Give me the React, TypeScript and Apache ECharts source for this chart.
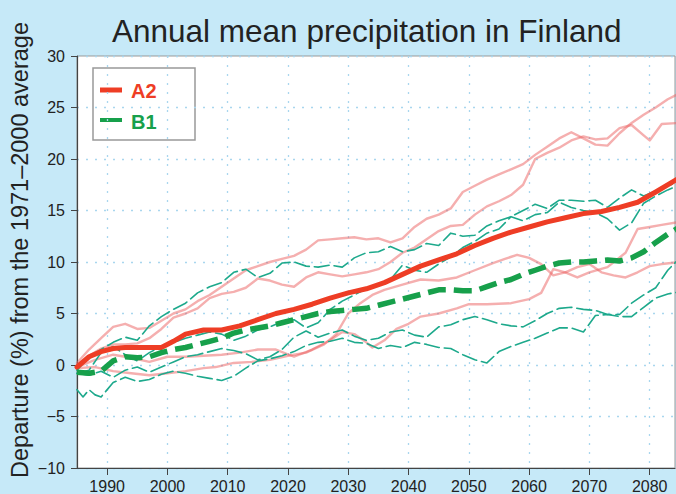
import React, { useEffect, useRef } from 'react';
import * as echarts from 'echarts';

const TITLE = 'Annual mean precipitation in Finland';
const Y_NAME = 'Departure (%) from the 1971–2000 average';
const LEGEND_LABELS = ['A2', 'B1'];
const X_TICKS = [1990, 2000, 2010, 2020, 2030, 2040, 2050, 2060, 2070, 2080];
const X_MIN = 1985;
const X_MAX = 2084.2;
const Y_MIN = -10;
const Y_MAX = 30;
const Y_STEP = 5;

// A2 scenario: multi-model mean and individual model runs
const a2Mean = [[1985,-0.2],[1987,0.8],[1989,1.3],[1991,1.6],[1993,1.7],[1996,1.7],[1999,1.7],[2001,2.3],[2003,3.0],[2006,3.4],[2009,3.4],[2012,3.8],[2015,4.4],[2018,5.0],[2021,5.4],[2024,5.9],[2027,6.5],[2030,7.0],[2033,7.4],[2036,8.0],[2039,8.8],[2042,9.6],[2045,10.2],[2048,10.8],[2051,11.6],[2054,12.3],[2057,12.9],[2060,13.4],[2063,13.9],[2066,14.3],[2069,14.7],[2072,14.9],[2075,15.3],[2078,15.8],[2081,16.8],[2085,18.2]];
const a2RunA = [[1985,0.2],[1987,1.5],[1989,2.6],[1991,3.7],[1993,4.0],[1995,3.5],[1997,3.6],[1999,4.3],[2001,5.0],[2003,5.4],[2005,6.2],[2007,6.8],[2009,7.6],[2011,8.4],[2013,9.2],[2015,9.6],[2017,10.0],[2019,10.3],[2021,10.6],[2023,11.2],[2025,12.1],[2027,12.2],[2029,12.3],[2031,12.4],[2033,12.2],[2035,12.3],[2037,11.9],[2039,12.3],[2041,13.4],[2043,14.2],[2045,14.6],[2047,15.2],[2049,16.8],[2051,17.4],[2053,18.0],[2055,18.5],[2057,19.0],[2059,19.5],[2061,20.4],[2063,21.2],[2065,22.0],[2067,22.6],[2069,22.0],[2071,21.4],[2073,21.3],[2075,22.5],[2077,23.5],[2079,24.3],[2081,25.0],[2083,25.8],[2085,26.4]];
const a2RunB = [[1985,0.0],[1987,0.9],[1989,1.6],[1991,2.0],[1993,2.0],[1995,2.1],[1997,2.6],[1999,3.5],[2001,4.6],[2003,5.0],[2005,5.5],[2007,6.5],[2009,6.9],[2011,7.1],[2013,7.5],[2015,8.4],[2017,8.2],[2019,7.8],[2021,7.6],[2023,8.5],[2025,9.0],[2027,8.8],[2029,8.6],[2031,8.8],[2033,9.0],[2035,9.3],[2037,10.0],[2039,10.9],[2041,11.4],[2043,12.2],[2045,13.0],[2047,13.5],[2049,13.6],[2051,14.6],[2053,15.4],[2055,15.9],[2057,16.5],[2059,17.5],[2061,20.0],[2063,20.6],[2065,21.1],[2067,21.8],[2069,22.2],[2071,21.9],[2073,22.0],[2075,23.0],[2077,23.3],[2079,22.3],[2080,21.8],[2082,23.4],[2085,23.5]];
const a2RunC = [[1985,-0.2],[1988,0.5],[1991,1.0],[1994,0.7],[1997,0.3],[2000,0.8],[2003,0.8],[2006,0.9],[2009,1.0],[2012,1.2],[2015,1.5],[2018,1.5],[2021,0.8],[2024,1.5],[2027,2.4],[2029,3.2],[2031,3.0],[2033,2.2],[2034,1.7],[2036,2.4],[2038,3.5],[2040,4.0],[2042,4.7],[2045,5.0],[2048,5.5],[2050,5.9],[2053,5.9],[2057,6.0],[2060,6.4],[2062,7.0],[2064,9.3],[2066,9.0],[2068,8.5],[2070,9.0],[2073,9.5],[2076,10.9],[2078,13.2],[2080,13.4],[2082,13.6],[2085,13.9]];
const a2RunD = [[1985,-0.3],[1988,-0.2],[1991,-0.6],[1994,-0.8],[1997,-1.0],[2000,-0.8],[2003,-0.6],[2006,-0.3],[2008,-0.2],[2011,0.2],[2014,0.3],[2017,0.5],[2020,0.9],[2023,1.2],[2026,2.0],[2028,3.0],[2030,5.0],[2032,6.0],[2034,6.8],[2036,7.3],[2039,7.8],[2042,8.3],[2045,8.2],[2048,8.5],[2051,9.2],[2054,9.9],[2056,10.3],[2058,10.7],[2060,10.4],[2062,9.8],[2064,8.7],[2066,9.0],[2068,9.5],[2070,9.8],[2072,9.0],[2074,8.7],[2076,8.5],[2078,9.0],[2080,9.6],[2082,9.8],[2085,10.0]];

// B1 scenario: multi-model mean and individual model runs
const b1Mean = [[1985,-0.7],[1987,-0.8],[1989,-0.6],[1991,0.4],[1993,0.8],[1995,0.7],[1997,0.8],[1999,1.2],[2001,1.5],[2003,1.7],[2005,2.0],[2007,2.3],[2009,2.6],[2011,3.1],[2013,3.4],[2015,3.6],[2017,3.8],[2019,4.1],[2021,4.4],[2023,4.7],[2025,5.0],[2027,5.2],[2029,5.3],[2031,5.4],[2033,5.5],[2035,5.8],[2037,6.1],[2039,6.4],[2041,6.7],[2043,7.0],[2045,7.3],[2047,7.3],[2049,7.2],[2051,7.2],[2053,7.6],[2055,8.0],[2057,8.3],[2059,8.8],[2061,9.2],[2063,9.6],[2065,9.9],[2067,10.0],[2069,10.0],[2071,10.1],[2073,10.2],[2075,10.1],[2077,10.4],[2079,11.0],[2081,11.9],[2083,12.7],[2085,13.4]];
const b1RunA = [[1985,-0.5],[1987,0.8],[1989,1.5],[1991,2.2],[1993,2.7],[1995,2.4],[1997,3.8],[1999,4.7],[2001,5.4],[2003,6.0],[2005,7.0],[2007,7.6],[2009,8.0],[2011,9.0],[2013,9.3],[2015,8.5],[2017,8.9],[2019,9.9],[2021,10.0],[2023,9.6],[2025,9.5],[2027,9.7],[2029,9.5],[2031,10.4],[2033,10.9],[2035,11.0],[2037,11.5],[2039,11.0],[2041,11.2],[2043,11.8],[2045,11.6],[2047,12.8],[2049,12.5],[2051,12.6],[2053,13.5],[2055,14.0],[2057,14.4],[2059,15.0],[2061,15.6],[2063,15.2],[2065,16.0],[2067,16.0],[2069,15.9],[2071,16.0],[2073,15.3],[2075,16.2],[2077,17.0],[2079,16.4],[2081,16.9],[2083,17.4],[2085,17.8]];
const b1RunB = [[1985,-0.8],[1987,-0.5],[1989,1.2],[1991,1.8],[1993,1.0],[1995,0.4],[1997,1.2],[1999,1.8],[2001,2.2],[2003,2.6],[2005,2.9],[2007,3.2],[2009,3.0],[2011,2.4],[2013,2.8],[2015,3.4],[2017,3.7],[2019,4.2],[2021,4.4],[2023,3.6],[2025,4.1],[2027,5.4],[2029,6.2],[2031,6.8],[2033,7.4],[2035,7.8],[2037,8.3],[2039,9.7],[2041,9.2],[2043,9.0],[2045,9.8],[2047,10.5],[2049,11.4],[2051,12.0],[2053,12.8],[2055,13.2],[2057,14.4],[2059,14.0],[2061,14.6],[2063,14.8],[2065,15.8],[2067,15.3],[2069,15.0],[2071,14.8],[2073,14.2],[2075,13.1],[2077,13.8],[2079,15.7],[2081,16.4],[2083,17.0],[2085,17.5]];
const b1RunC = [[1985,-0.8],[1987,-1.0],[1989,-0.6],[1991,-1.2],[1993,-0.5],[1995,-0.2],[1997,-0.7],[1999,-0.2],[2001,0.3],[2003,0.8],[2005,1.0],[2007,1.3],[2009,1.6],[2011,1.4],[2013,1.1],[2015,0.5],[2017,0.8],[2019,1.5],[2021,2.7],[2023,3.3],[2025,2.7],[2027,3.1],[2029,3.4],[2031,2.8],[2033,2.4],[2035,2.6],[2037,3.2],[2039,3.4],[2041,2.9],[2043,2.7],[2045,3.7],[2047,3.9],[2049,4.4],[2051,4.7],[2053,4.4],[2055,4.0],[2057,3.8],[2059,3.7],[2061,4.3],[2063,5.0],[2065,5.5],[2067,5.6],[2069,5.4],[2071,5.3],[2073,4.9],[2075,4.9],[2077,6.0],[2079,6.8],[2081,7.5],[2083,9.2],[2085,10.4]];
const b1RunD = [[1985,-2.4],[1986,-3.1],[1987,-2.4],[1988,-2.9],[1989,-3.1],[1991,-1.7],[1993,-1.2],[1995,-1.6],[1997,-1.4],[1999,-0.9],[2001,-0.6],[2003,-0.8],[2005,-1.1],[2007,-1.3],[2009,-1.5],[2011,-1.1],[2013,-0.3],[2015,0.4],[2017,0.6],[2019,0.9],[2021,1.3],[2023,1.9],[2025,2.2],[2027,2.3],[2029,2.6],[2031,2.2],[2033,2.1],[2035,1.6],[2037,1.9],[2039,1.7],[2041,2.2],[2043,2.0],[2045,1.7],[2047,1.6],[2049,1.0],[2051,0.5],[2053,0.2],[2055,1.3],[2057,1.8],[2059,2.2],[2061,2.6],[2063,3.1],[2065,3.6],[2067,3.6],[2069,3.2],[2071,4.8],[2073,4.9],[2075,4.7],[2077,4.7],[2079,5.6],[2081,6.5],[2083,6.9],[2085,7.1]];

const FONT = '"Liberation Sans", Arial, Helvetica, sans-serif';
const RED = '#ee3d25';
const PINK = 'rgba(236,95,95,0.5)';
const GREEN = '#17a04b';
const TEAL = '#1da98c';

export default function App() {
  const ref = useRef<HTMLDivElement>(null);
  useEffect(() => {
    if (!ref.current) return;
    const chart = echarts.init(ref.current, null, { renderer: 'svg' });
    const thin = (name: string, data: number[][], color: string, width: number, type: any) => ({
      name, type: 'line', data, symbol: 'none', silent: true,
      lineStyle: { color, width, type, cap: 'round', join: 'round' },
      itemStyle: { color },
    });
    chart.setOption({
      animation: false,
      backgroundColor: '#c6e9f8',
      textStyle: { fontFamily: FONT },
      title: {
        text: TITLE, left: 107, top: 10,
        textStyle: { fontSize: 31.5, fontWeight: 'normal', color: '#222', fontFamily: FONT },
      },
      grid: {
        left: 77, right: 1, top: 56, bottom: 26,
        show: true, backgroundColor: '#ffffff', borderColor: '#999', borderWidth: 1,
      },
      xAxis: {
        type: 'value', min: X_MIN, max: X_MAX,
        axisLine: { show: true, onZero: false, lineStyle: { color: '#444', width: 1.2 } },
        axisTick: { show: true, length: 7, customValues: X_TICKS, lineStyle: { color: '#444' } },
        axisLabel: {
          customValues: X_TICKS, fontSize: 16, color: '#222', margin: 10, fontFamily: FONT,
          formatter: (v: number) => String(v),
        },
        splitLine: { show: true, lineStyle: { color: '#a9d6ee', type: [2, 7], width: 1.3 } },
      },
      yAxis: {
        type: 'value', min: Y_MIN, max: Y_MAX, interval: Y_STEP,
        axisLine: { show: true, onZero: false, lineStyle: { color: '#444', width: 1.2 } },
        axisTick: { show: true, length: 6, lineStyle: { color: '#444' } },
        axisLabel: {
          fontSize: 16, color: '#222', margin: 12, fontFamily: FONT,
          formatter: (v: number) => (v < 0 ? '\u2212' + Math.abs(v) : String(v)),
        },
        splitLine: { show: true, lineStyle: { color: '#a9d6ee', type: [2, 7], width: 1.3 } },
      },
      graphic: [
        {
          type: 'text', x: 20, y: 250, rotation: Math.PI / 2,
          style: {
            text: Y_NAME, fontSize: 23.5, fill: '#222', fontFamily: FONT,
            align: 'center', verticalAlign: 'middle',
          },
        },
        // key box
        {
          type: 'group', x: 93, y: 68, z: 100,
          children: [
            { type: 'rect', shape: { x: 0, y: 0, width: 102, height: 72 },
              style: { fill: '#ffffff', stroke: '#999', lineWidth: 1.5 } },
            { type: 'line', shape: { x1: 7, y1: 22, x2: 29, y2: 22 },
              style: { stroke: RED, lineWidth: 5 } },
            { type: 'text', x: 38, y: 23,
              style: { text: LEGEND_LABELS[0], fill: RED, fontSize: 20, fontWeight: 'bold',
                fontFamily: FONT, align: 'left', verticalAlign: 'middle' } },
            { type: 'line', shape: { x1: 7, y1: 52, x2: 29, y2: 52 },
              style: { stroke: GREEN, lineWidth: 4 } },
            { type: 'text', x: 38, y: 54,
              style: { text: LEGEND_LABELS[1], fill: GREEN, fontSize: 20, fontWeight: 'bold',
                fontFamily: FONT, align: 'left', verticalAlign: 'middle' } },
          ],
        },
      ],
      series: [
        thin('A2 run 1', a2RunA, PINK, 2.4, 'solid'),
        thin('A2 run 2', a2RunB, PINK, 2.4, 'solid'),
        thin('A2 run 3', a2RunC, PINK, 2.4, 'solid'),
        thin('A2 run 4', a2RunD, PINK, 2.4, 'solid'),
        thin('B1 run 1', b1RunA, TEAL, 1.6, [15, 5]),
        thin('B1 run 2', b1RunB, TEAL, 1.6, [15, 5]),
        thin('B1 run 3', b1RunC, TEAL, 1.6, [15, 5]),
        thin('B1 run 4', b1RunD, TEAL, 1.6, [15, 5]),
        {
          name: 'A2', type: 'line', data: a2Mean, symbol: 'none',
          lineStyle: { color: RED, width: 5, cap: 'round', join: 'round' },
          itemStyle: { color: RED },
        },
        {
          name: 'B1', type: 'line', data: b1Mean, symbol: 'none',
          lineStyle: { color: GREEN, width: 5.5, type: [18, 8], join: 'round' },
          itemStyle: { color: GREEN },
        },
      ],
    });
    return () => chart.dispose();
  }, []);
  return <div ref={ref} style={{ position: 'fixed', left: 0, top: 0, width: 676, height: 494 }} />;
}
